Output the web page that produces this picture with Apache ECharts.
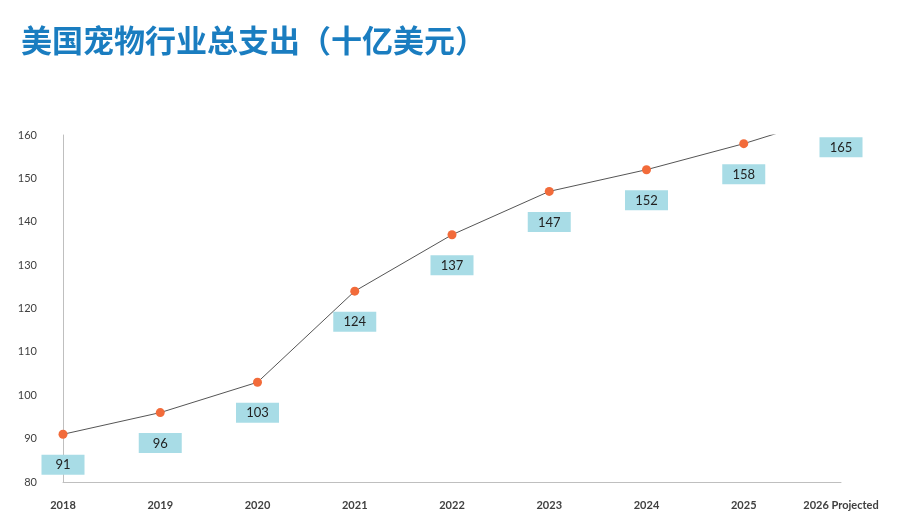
<!DOCTYPE html>
<html>
<head>
<meta charset="utf-8">
<script src="https://cdn.jsdelivr.net/npm/echarts@6/dist/echarts.min.js"></script>
<style>html,body{margin:0;padding:0;background:#fff}#c{width:900px;height:531px}</style>
</head>
<body>
<div id="c"></div>
<script>
const years = ['2018', '2019', '2020', '2021', '2022', '2023', '2024', '2025', '2026 Projected'];
const spending = [91, 96, 103, 124, 137, 147, 152, 158, 165];
// the projected value sits above the axis max, so its label is drawn by a separate unclipped series
const projected = [null, null, null, null, null, null, null, null, 165];

const chart = echarts.init(document.getElementById('c'));

const labelStyle = {
  show: true,
  position: 'bottom',
  distance: 16,
  color: '#222',
  fontSize: 13,
  fontFamily: 'Lato',
  backgroundColor: '#a8dce6',
  padding: [4, 9, 3, 9],
  width: 25,
  align: 'center'
};

const option = {
  backgroundColor: '#ffffff',
  title: {
    text: '美国宠物行业总支出（十亿美元）',
    left: 16,
    top: 20,
    textStyle: { color: '#1a7dc0', fontSize: 31, fontWeight: 'bold', fontFamily: 'Noto Sans CJK SC' }
  },
  grid: { left: 63, right: 59, top: 135, bottom: 49 },
  xAxis: {
    type: 'category',
    data: years,
    boundaryGap: false,
    axisLine: { lineStyle: { color: '#bfbfbf' } },
    axisTick: { show: false },
    axisLabel: { interval: 0, color: '#404040', fontSize: 11, fontWeight: 'bold', margin: 18, fontFamily: 'Lato' }
  },
  yAxis: {
    type: 'value',
    min: 80,
    max: 160,
    interval: 10,
    splitLine: { show: false },
    axisLine: { show: true, lineStyle: { color: '#bfbfbf' } },
    axisTick: { show: false },
    axisLabel: { color: '#404040', fontSize: 11, margin: 26, fontFamily: 'Lato' }
  },
  series: [{
    type: 'line',
    data: spending,
    clip: true,
    symbol: 'circle',
    symbolSize: 9,
    itemStyle: { color: '#f26b3a' },
    lineStyle: { color: '#555555', width: 1 },
    label: labelStyle
  }, {
    type: 'scatter',
    data: projected,
    clip: false,
    symbolSize: 0,
    silent: true,
    itemStyle: { opacity: 1 },
    label: Object.assign({}, labelStyle, { offset: [0, 8] })
  }]
};

chart.setOption(option);
</script>
</body>
</html>
